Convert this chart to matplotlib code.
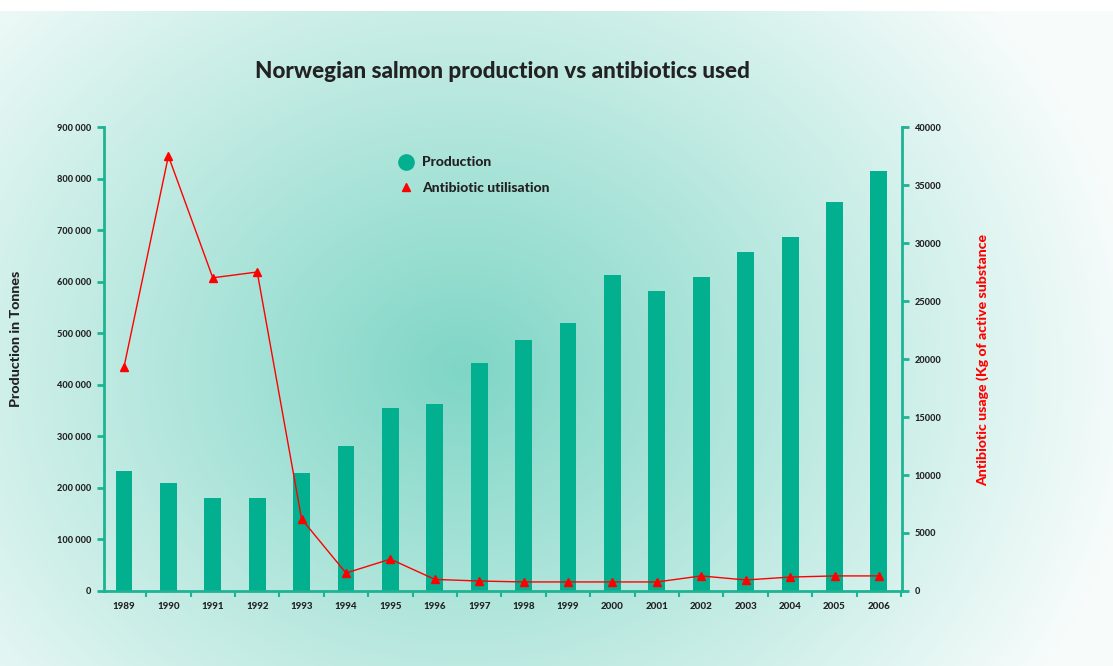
import numpy as np
import matplotlib
matplotlib.use("Agg")
import matplotlib.pyplot as plt
import matplotlib.colors as mcolors
from matplotlib.lines import Line2D
from matplotlib.ticker import FuncFormatter

# ---------------- data ----------------
years = [1989, 1990, 1991, 1992, 1993, 1994, 1995, 1996, 1997,
         1998, 1999, 2000, 2001, 2002, 2003, 2004, 2005, 2006]
production = [232000, 210000, 181000, 181000, 228000, 282000, 354000, 362000, 442000,
              487000, 520000, 612000, 582000, 610000, 658000, 686000, 754000, 814000]
antibiotics = [19300, 37500, 27000, 27500, 6200, 1550, 2750, 1000, 860,
               780, 780, 780, 780, 1300, 950, 1200, 1300, 1300]
left_ticks = [0, 100000, 200000, 300000, 400000, 500000, 600000, 700000, 800000, 900000]
right_ticks = [0, 5000, 10000, 15000, 20000, 25000, 30000, 35000, 40000]

title = "Norwegian salmon production vs antibiotics used"
left_label = "Production in Tonnes"
right_label = "Antibiotic usage (Kg of active substance"
legend_labels = ["Production", "Antibiotic utilisation"]

TEAL = "#02b08f"
SPINE = "#1db394"
RED = "#ff0000"
TXT = "#222222"
FONT = "Lato"

W, H = 1113, 666
fig = plt.figure(figsize=(W / 100, H / 100), dpi=100)

# radial gradient background
bg = fig.add_axes([0, 0, 1, 1])
bg.axis("off")
yy, xx = np.mgrid[0:H, 0:W]
cx, cy, rx, ry = 460, 370, 680, 580
t = np.sqrt(((xx - cx) / rx) ** 2 + ((yy - cy) / ry) ** 2).clip(0, 1)
c0 = np.array(mcolors.to_rgb("#7fd6c6"))
c1 = np.array(mcolors.to_rgb("#f7fcfb"))
img = c0 + (c1 - c0) * (t[..., None] ** 1.0)
img[:11] = 1.0
bg.imshow(img, aspect="auto", interpolation="bilinear")

# main axes
ax = fig.add_axes([104 / W, 1 - 591 / H, (902 - 104) / W, (591 - 127) / H])
ax.patch.set_alpha(0)
x = np.arange(len(years))
ax.bar(x, production, width=0.38, color=TEAL, zorder=2)
ax.set_xlim(-0.45, len(years) - 0.48)
ax.set_ylim(0, 900000)
ax.set_yticks(left_ticks)
ax.yaxis.set_major_formatter(FuncFormatter(lambda v, p: f"{int(v):,}".replace(",", " ")))
ax.set_xticks(x, labels=[str(y) for y in years])
ax.set_xticks(np.arange(0.5, len(years) - 0.4, 1), minor=True)

ax2 = ax.twinx()
ax2.plot(x, antibiotics, color=RED, lw=1, marker="^", ms=6, zorder=3)
ax2.set_ylim(0, 40000)
ax2.set_yticks(right_ticks)

for a in (ax, ax2):
    a.spines["top"].set_visible(False)
ax.spines["right"].set_visible(False)
ax2.spines["left"].set_visible(False)
ax2.spines["bottom"].set_visible(False)
for s in ("left", "bottom"):
    ax.spines[s].set_color(SPINE)
    ax.spines[s].set_linewidth(2)
ax2.spines["right"].set_color(SPINE)
ax2.spines["right"].set_linewidth(2)

ax.tick_params(axis="y", length=5, width=2, color=SPINE, pad=4, labelcolor=TXT)
ax2.tick_params(axis="y", length=5, width=2, color=SPINE, pad=4, labelcolor=TXT)
ax.tick_params(axis="x", which="major", length=0, pad=8, labelcolor=TXT)
ax.tick_params(axis="x", which="minor", length=4, width=1.5, color=SPINE)
for lab in ax.get_yticklabels() + ax2.get_yticklabels():
    lab.set_fontfamily(FONT)
    lab.set_fontweight("black")
    lab.set_fontsize(6.6)
for lab in ax.get_xticklabels():
    lab.set_fontfamily(FONT)
    lab.set_fontweight("black")
    lab.set_fontsize(7)

fig.text(502 / W, 1 - 72 / H, title, ha="center", va="center",
         fontsize=16.2, fontweight="black", family=FONT, color=TXT)
fig.text(16 / W, 1 - 339 / H, left_label, rotation=90, ha="center", va="center",
         fontsize=10.3, fontweight="black", family=FONT, color=TXT)
fig.text(983 / W, 1 - 360 / H, right_label, rotation=90, ha="center", va="center",
         fontsize=10.2, fontweight="black", family=FONT, color=RED)

handles = [Line2D([], [], ls="none", marker="o", ms=11, color=TEAL),
           Line2D([], [], ls="none", marker="^", ms=6, color=RED)]
leg = ax2.legend(handles, legend_labels, loc="upper left",
                 bbox_to_anchor=(387 / W, 1 - 144 / H), bbox_transform=fig.transFigure,
                 frameon=False, handlelength=1.0, handletextpad=0.6, labelspacing=0.95,
                 prop=dict(family=FONT, weight="black", size=10))
for txt in leg.get_texts():
    txt.set_color(TXT)

fig.savefig("out.png", dpi=100)
